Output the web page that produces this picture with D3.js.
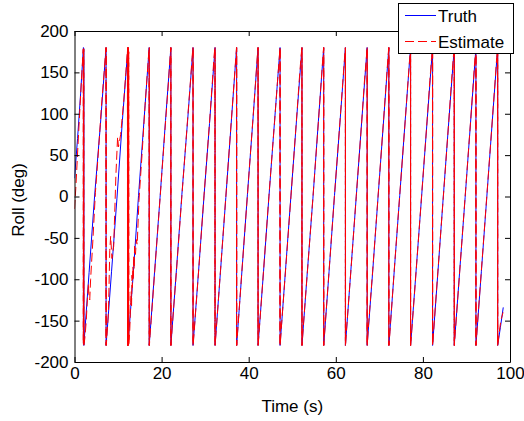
<!DOCTYPE html>
<html>
<head>
<meta charset="utf-8">
<script src="https://cdn.jsdelivr.net/npm/d3@7"></script>
<style>
  html, body { margin: 0; padding: 0; background: #ffffff; }
  svg { display: block; }
  text { font-family: "Liberation Sans", Arial, Helvetica, sans-serif; }
</style>
</head>
<body>
<div id="chart"></div>
<script>
// ---------------- data ----------------
const xTicks = [0, 20, 40, 60, 80, 100];
const yTicks = [-200, -150, -100, -50, 0, 50, 100, 150, 200];
const seriesNames = ["Truth", "Estimate"];
const xLabel = "Time (s)";
const yLabel = "Roll (deg)";

// Truth roll (deg) vs time (s): [t, roll]
const truth = [
  [0.00, 22], [0.70, 70], [1.40, 124], [2.05, 180],
  [2.06, -179], [2.08, 179], [2.10, -179], [2.12, 179], [2.14, -180],
  [3.35, -92], [4.65, 3], [5.95, 87], [7.25, 180],
  [7.25, -180], [8.50, -91], [9.75, -2], [11.00, 92], [12.27, 180],
  [12.27, -180], [13.50, -93], [14.70, 1], [15.95, 91], [17.15, 180],
  [17.15, -180], [18.40, -90], [19.65, -1], [20.90, 92], [22.13, 180],
  [22.13, -180], [23.40, -89], [24.65, 2], [25.95, 90], [27.22, 180],
  [27.22, -180], [28.48, -91], [29.75, 1], [31.00, 88], [32.27, 180],
  [32.27, -180], [33.50, -92], [34.75, -1], [36.00, 90], [37.23, 180],
  [37.23, -180], [38.45, -90], [39.70, 2], [40.95, 91], [42.15, 180],
  [42.15, -180], [43.40, -91], [44.65, 0], [45.95, 92], [47.20, 180],
  [47.20, -180], [48.45, -89], [49.70, 1], [50.95, 90], [52.23, 180],
  [52.23, -180], [53.48, -90], [54.75, -2], [56.00, 91], [57.22, 180],
  [57.22, -180], [58.45, -91], [59.70, 1], [60.95, 89], [62.21, 180],
  [62.21, -180], [63.45, -90], [64.70, 0], [65.95, 91], [67.20, 180],
  [67.20, -180], [68.45, -92], [69.70, -1], [70.95, 90], [72.18, 180],
  [72.18, -180], [73.42, -90], [74.68, 1], [75.92, 91], [77.17, 180],
  [77.17, -180], [78.45, -89], [79.70, 0], [80.95, 90], [82.22, 180],
  [82.22, -180], [83.45, -91], [84.70, 1], [85.95, 91], [87.20, 180],
  [87.20, -180], [88.45, -90], [89.70, -1], [90.95, 90], [92.18, 180],
  [92.18, -180], [93.42, -91], [94.68, 0], [95.92, 90], [97.17, 180],
  [97.17, -180], [97.80, -158], [98.45, -134]
];

// Estimated roll (deg) vs time (s): [t, roll]
const estimate = [
  [0.00, -15], [0.30, 10], [0.80, 62], [1.30, 112], [1.70, 150], [2.00, 178],
  [2.02, -178], [2.06, 179], [2.10, -179], [2.14, 178], [2.17, -180],
  [2.40, -170], [2.70, -150], [3.00, -120], [3.20, -105], [3.30, -118], [3.50, -125], [3.70, -100],
  [4.20, -55], [4.80, 5], [5.50, 55], [6.20, 110], [6.80, 150], [7.10, 172], [7.22, 180],
  [7.24, -180], [7.27, 180], [7.30, -180],
  [7.80, -140], [8.10, -65], [8.30, -48], [8.60, -75], [9.00, -60], [9.50, 25],
  [9.90, 72], [10.10, 60], [10.60, 75], [11.30, 115], [11.80, 150], [12.15, 176],
  [12.18, -180], [12.21, 180], [12.24, -180], [12.26, 180], [12.29, -180], [12.32, 180],
  [12.35, -180], [12.38, 180], [12.42, -180], [12.46, 175], [12.50, -178],
  [12.70, -160], [12.90, -128], [13.00, -115], [13.10, -132], [13.20, -95], [13.30, -110],
  [13.40, -85], [13.50, -100], [13.60, -72], [13.70, -88], [13.80, -60], [14.00, -70],
  [14.20, -52], [14.40, -58], [14.80, -5], [15.50, 50], [16.20, 110],
  [16.80, 155], [17.10, 178],
  [17.15, -180], [17.18, 180], [17.20, -180],
  [17.35, -168], [17.60, -150], [18.40, -92], [19.65, -2], [20.90, 90], [21.60, 140], [21.90, 165], [22.10, 180],
  [22.12, -180], [22.14, 180], [22.16, -180],
  [22.40, -160], [23.40, -91], [24.65, 0], [25.95, 92], [26.70, 145], [27.00, 168], [27.20, 180],
  [27.21, -180], [27.23, 180], [27.25, -180],
  [27.50, -162], [28.50, -90], [29.75, 2], [31.00, 89], [31.70, 142], [32.05, 170], [32.25, 180],
  [32.26, -180], [32.28, 180], [32.30, -180],
  [32.50, -165], [33.50, -91], [34.75, 0], [36.00, 91], [36.70, 142], [37.00, 165], [37.20, 180],
  [37.22, -180], [37.24, 180], [37.26, -180],
  [37.50, -160], [38.45, -89], [39.70, 1], [40.95, 92], [41.60, 140], [41.95, 168], [42.13, 180],
  [42.14, -180], [42.16, 180], [42.18, -180],
  [42.40, -163], [43.40, -90], [44.65, 1], [45.95, 91], [46.60, 138], [47.00, 166], [47.18, 180],
  [47.19, -180], [47.21, 180], [47.23, -180],
  [47.45, -162], [48.45, -90], [49.70, 0], [50.95, 91], [51.60, 140], [52.00, 168], [52.21, 180],
  [52.22, -180], [52.24, 180], [52.26, -180],
  [52.50, -160], [53.48, -91], [54.75, -1], [56.00, 90], [56.70, 143], [57.00, 166], [57.20, 180],
  [57.21, -180], [57.23, 180], [57.25, -180],
  [57.45, -164], [58.45, -90], [59.70, 2], [60.95, 90], [61.60, 138], [62.00, 167], [62.19, 180],
  [62.20, -180], [62.22, 180], [62.24, -180],
  [62.45, -162], [63.45, -91], [64.70, 1], [65.95, 90], [66.60, 141], [67.00, 166], [67.18, 180],
  [67.19, -180], [67.21, 180], [67.23, -180],
  [67.45, -160], [68.45, -91], [69.70, 0], [70.95, 91], [71.60, 139], [71.95, 166], [72.16, 180],
  [72.17, -180], [72.19, 180], [72.21, -180],
  [72.45, -163], [73.42, -89], [74.68, 2], [75.92, 90], [76.60, 140], [76.95, 166], [77.15, 180],
  [77.16, -180], [77.18, 180], [77.20, -180],
  [77.45, -162], [78.45, -90], [79.70, 1], [80.95, 91], [81.60, 140], [82.00, 168], [82.20, 180],
  [82.21, -180], [82.23, 180], [82.25, -180],
  [82.50, -160], [83.45, -90], [84.70, 0], [85.95, 92], [86.60, 141], [86.95, 166], [87.18, 180],
  [87.19, -180], [87.21, 180], [87.23, -180],
  [87.45, -163], [88.45, -91], [89.70, 0], [90.95, 91], [91.60, 140], [91.95, 167], [92.16, 180],
  [92.17, -180], [92.19, 180], [92.21, -180],
  [92.45, -160], [93.42, -90], [94.68, 1], [95.92, 91], [96.60, 141], [96.95, 168], [97.15, 180],
  [97.16, -180], [97.18, 180], [97.20, -180],
  [97.50, -165], [97.90, -150], [98.40, -140]
];

// ---------------- chart ----------------
const W = 524, H = 421;
const plot = { left: 74.5, right: 510, top: 31, bottom: 362 };

const svg = d3.select("#chart").append("svg")
  .attr("width", W).attr("height", H)
  .attr("viewBox", `0 0 ${W} ${H}`);

svg.append("rect").attr("width", W).attr("height", H).attr("fill", "#ffffff");

const x = d3.scaleLinear().domain([0, 100]).range([plot.left, plot.right]);
const y = d3.scaleLinear().domain([-200, 200]).range([plot.bottom, plot.top]);

svg.append("defs").append("clipPath").attr("id", "clip")
  .append("rect")
  .attr("x", plot.left).attr("y", plot.top)
  .attr("width", plot.right - plot.left).attr("height", plot.bottom - plot.top);

const line = d3.line().x(d => x(d[0])).y(d => y(d[1]));

const lines = svg.append("g").attr("clip-path", "url(#clip)");
lines.append("path")
  .datum(truth)
  .attr("fill", "none")
  .attr("stroke", "#0000ff")
  .attr("stroke-width", 1)
  .attr("d", line);
lines.append("path")
  .datum(estimate)
  .attr("fill", "none")
  .attr("stroke", "#ff0000")
  .attr("stroke-width", 1)
  .attr("stroke-dasharray", "9,4")
  .attr("d", line);

const fontSize = 17;
function styleAxis(g) {
  g.select(".domain").attr("stroke", "#000").attr("stroke-width", 1);
  g.selectAll(".tick line").attr("stroke", "#000").attr("stroke-width", 1);
  g.selectAll(".tick text").attr("fill", "#000")
    .style("font-size", fontSize + "px")
    .style("font-family", '"Liberation Sans", Arial, sans-serif');
}

svg.append("g")
  .attr("transform", `translate(0,${plot.bottom})`)
  .call(d3.axisBottom(x).tickValues(xTicks).tickSizeInner(-5).tickSizeOuter(0).tickPadding(5)
        .tickFormat(d3.format("d")))
  .call(styleAxis);

svg.append("g")
  .attr("transform", `translate(0,${plot.top})`)
  .call(d3.axisTop(x).tickValues(xTicks).tickSizeInner(-5).tickSizeOuter(0).tickFormat(""))
  .call(styleAxis);

svg.append("g")
  .attr("transform", `translate(${plot.left},0)`)
  .call(d3.axisLeft(y).tickValues(yTicks).tickSizeInner(-5).tickSizeOuter(0).tickPadding(6)
        .tickFormat(d => String(d)))
  .call(styleAxis);

svg.append("g")
  .attr("transform", `translate(${plot.right},0)`)
  .call(d3.axisRight(y).tickValues(yTicks).tickSizeInner(-5).tickSizeOuter(0).tickFormat(""))
  .call(styleAxis);

// axis titles
svg.append("text")
  .attr("x", (plot.left + plot.right) / 2)
  .attr("y", 412)
  .attr("text-anchor", "middle")
  .style("font-size", fontSize + "px")
  .attr("fill", "#000")
  .text(xLabel);

svg.append("text")
  .attr("transform", `translate(24,200) rotate(-90)`)
  .attr("text-anchor", "middle")
  .style("font-size", fontSize + "px")
  .attr("fill", "#000")
  .text(yLabel);

// legend
const lg = svg.append("g");
lg.append("rect")
  .attr("x", 398.5).attr("y", 3.5)
  .attr("width", 115).attr("height", 50)
  .attr("fill", "#ffffff").attr("stroke", "#000").attr("stroke-width", 1);

const legendItems = [
  { name: seriesNames[0], color: "#0000ff", dash: null, y: 15.5 },
  { name: seriesNames[1], color: "#ff0000", dash: "9,4", y: 41.5 }
];
legendItems.forEach(it => {
  lg.append("line")
    .attr("x1", 405).attr("x2", 436)
    .attr("y1", it.y).attr("y2", it.y)
    .attr("stroke", it.color).attr("stroke-width", 1)
    .attr("stroke-dasharray", it.dash);
  lg.append("text")
    .attr("x", 438).attr("y", it.y)
    .attr("dy", "0.36em")
    .style("font-size", fontSize + "px")
    .attr("fill", "#000")
    .text(it.name);
});
</script>
</body>
</html>
